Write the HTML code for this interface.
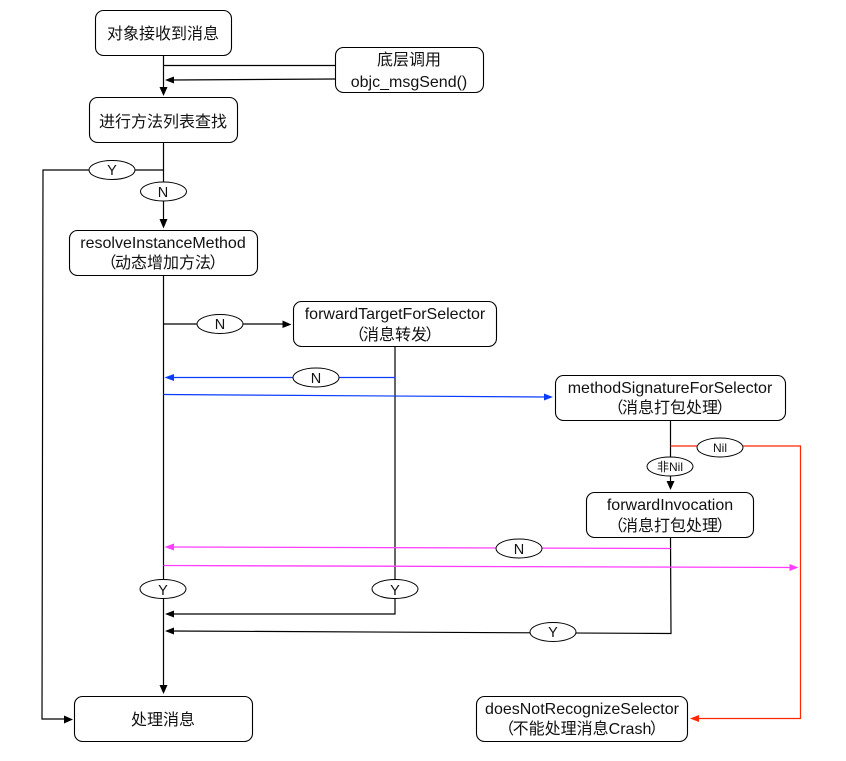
<!DOCTYPE html>
<html><head><meta charset="utf-8">
<style>
html,body{margin:0;padding:0;background:#fff;width:846px;height:761px;overflow:hidden}
svg{display:block}
text{font-family:"Liberation Sans","Noto Sans CJK SC",sans-serif;font-size:16px;fill:#111;text-anchor:middle}
.b{fill:#fff;stroke:#000;stroke-width:1.1}
.l{fill:none;stroke:#000;stroke-width:1.2}
.blue{fill:none;stroke:#0a3cff;stroke-width:1.2}
.pink{fill:none;stroke:#ff3cff;stroke-width:1.3}
.red{fill:none;stroke:#ff2600;stroke-width:1.2}
.e{fill:#fff;stroke:#000;stroke-width:1}
.s{font-size:14.5px}
</style></head><body>
<svg width="846" height="761" viewBox="0 0 846 761" xmlns="http://www.w3.org/2000/svg">
<!-- black connectors -->
<path class="l" d="M163.5 55V90"/><polygon points="163.5,96 159.5,87 167.5,87" fill="#000"/>
<path class="l" d="M163.5 65.5H335.5"/>
<path class="l" d="M335.5 79L172 80"/><polygon points="165,80 174,76.5 174,83.5" fill="#000"/>
<path class="l" d="M163.5 142V222"/><polygon points="163.5,228.5 159.5,219 167.5,219" fill="#000"/>
<path class="l" d="M163.5 170H43L42 719H68"/><polygon points="73,719.5 64,715.5 64,723.5" fill="#000"/>
<path class="l" d="M163.5 275V688"/><polygon points="163.5,694 159.5,685 167.5,685" fill="#000"/>
<path class="l" d="M163.5 324H285"/><polygon points="291.5,324.5 282.5,320.5 282.5,328" fill="#000"/>
<path class="l" d="M395 346V614H172"/><polygon points="165,614 174,610.5 174,617.5" fill="#000"/>
<path class="l" d="M670.5 420V483"/><polygon points="670.5,490 666.5,481 674.5,481" fill="#000"/>
<path class="l" d="M670.5 537L671 633.5L172 631"/><polygon points="165,631 174,627.5 174,634.5" fill="#000"/>
<!-- blue -->
<path class="blue" d="M395 377.5H172"/><polygon points="164.5,377.5 174,374 174,381" fill="#0a3cff"/>
<path class="blue" d="M163.5 394.5L546 397"/><polygon points="553,397 544,393.5 544,400.5" fill="#0a3cff"/>
<!-- pink -->
<path class="pink" d="M670.5 548.5L172 547"/><polygon points="164.5,547 174,543.5 174,550.5" fill="#ff3cff"/>
<path class="pink" d="M163.5 565.5L791 567.5"/><polygon points="798.5,567.5 789.5,564 789.5,571" fill="#ff3cff"/>
<!-- red -->
<path class="red" d="M670.5 446H800.5V718.5H698"/><polygon points="690,718.5 699,715 699,722" fill="#ff2600"/>
<!-- boxes -->
<rect class="b" x="95.5" y="10.5" width="136" height="45" rx="8"/>
<rect class="b" x="335.5" y="47.5" width="148" height="45" rx="8"/>
<rect class="b" x="89.5" y="97.5" width="148" height="45" rx="8"/>
<rect class="b" x="69.5" y="230.5" width="188" height="45" rx="8"/>
<rect class="b" x="293.5" y="301.5" width="203" height="45" rx="8"/>
<rect class="b" x="555.5" y="375.5" width="230" height="45" rx="8"/>
<rect class="b" x="586.5" y="492.5" width="167" height="45" rx="8"/>
<rect class="b" x="74.5" y="696.5" width="178" height="45" rx="8"/>
<rect class="b" x="476.5" y="696.5" width="211" height="45" rx="8"/>
<!-- ellipses -->
<ellipse class="e" cx="112" cy="170" rx="23" ry="9.5"/>
<ellipse class="e" cx="163.5" cy="191.5" rx="23" ry="9.5"/>
<ellipse class="e" cx="220" cy="324" rx="23" ry="9.5"/>
<ellipse class="e" cx="316" cy="377.5" rx="23" ry="9.5"/>
<ellipse class="e" cx="720" cy="447.5" rx="23" ry="9.5"/>
<ellipse class="e" cx="670" cy="466.5" rx="23" ry="9.5"/>
<ellipse class="e" cx="519" cy="548.5" rx="23" ry="9.5"/>
<ellipse class="e" cx="163" cy="589" rx="23" ry="9.5"/>
<ellipse class="e" cx="395" cy="589" rx="23" ry="9.5"/>
<ellipse class="e" cx="553" cy="632" rx="23" ry="9.5"/>
<!-- labels -->
<text x="163" y="39">对象接收到消息</text>
<text x="409" y="65">底层调用</text>
<text x="409" y="87">objc_msgSend()</text>
<text x="163" y="127">进行方法列表查找</text>
<text x="163" y="248">resolveInstanceMethod</text>
<text x="163" y="268">（<tspan dx="-1.5">动态增加方法</tspan><tspan dx="-1.5">）</tspan></text>
<text x="395" y="340">（<tspan dx="-1.5">消息转发</tspan><tspan dx="-1.5">）</tspan></text>
<text x="395" y="319">forwardTargetForSelector</text>
<text x="670" y="393">methodSignatureForSelector</text>
<text x="670" y="413">（<tspan dx="-1.5">消息打包处理</tspan><tspan dx="-1.5">）</tspan></text>
<text x="670" y="510">forwardInvocation</text>
<text x="670" y="531">（<tspan dx="-1.5">消息打包处理</tspan><tspan dx="-1.5">）</tspan></text>
<text x="163" y="725">处理消息</text>
<text x="582" y="714">doesNotRecognizeSelector</text>
<text x="582" y="734">（<tspan dx="-1.5">不能处理消息Crash</tspan><tspan dx="-1.5">）</tspan></text>
<text class="s" x="112" y="175">Y</text>
<text class="s" x="163" y="197">N</text>
<text class="s" x="220" y="329">N</text>
<text class="s" x="316" y="383">N</text>
<text x="720" y="452" style="font-size:12px">Nil</text>
<text x="670" y="471" style="font-size:12px">非Nil</text>
<text class="s" x="519" y="554">N</text>
<text class="s" x="163" y="595">Y</text>
<text class="s" x="395" y="595">Y</text>
<text class="s" x="553" y="637">Y</text>
</svg>
</body></html>
